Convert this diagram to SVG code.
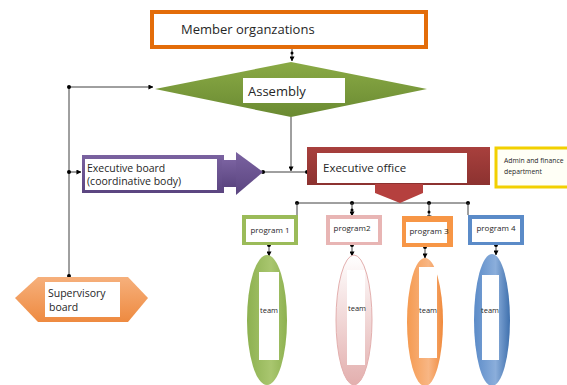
<svg xmlns="http://www.w3.org/2000/svg" width="567" height="385" viewBox="0 0 567 385">
<defs>
<style>
text{font-family:"Open Sans","Liberation Sans",Arial,sans-serif;fill:#262626}
.ln{stroke:#404040;stroke-width:1;fill:none}
.dot{fill:#000}
.inner{fill:#fff}
</style>
<marker id="ah" viewBox="0 0 6 6" refX="5.5" refY="3" markerWidth="5" markerHeight="5" orient="auto"><path d="M0,0 L6,3 L0,6 z" fill="#000"/></marker>
<linearGradient id="gGreen" x1="0" y1="0" x2="0" y2="1"><stop offset="0" stop-color="#8AAA45"/><stop offset="1" stop-color="#6A8A32"/></linearGradient>
<linearGradient id="gRed" x1="0" y1="0" x2="0" y2="1"><stop offset="0" stop-color="#A8403D"/><stop offset="1" stop-color="#8C3230"/></linearGradient>
<linearGradient id="gPurple" x1="0" y1="0" x2="0" y2="1"><stop offset="0" stop-color="#7A62A0"/><stop offset="1" stop-color="#5B4580"/></linearGradient>
<linearGradient id="gOr" x1="0" y1="0" x2="0" y2="1"><stop offset="0" stop-color="#F6B07C"/><stop offset="1" stop-color="#EE8A40"/></linearGradient>
<linearGradient id="eGreen" x1="0" y1="0" x2="1" y2="0"><stop offset="0" stop-color="#8DB150"/><stop offset="0.6" stop-color="#A9C66F"/><stop offset="1" stop-color="#8DB150"/></linearGradient>
<linearGradient id="ePink" x1="0" y1="0" x2="0" y2="1"><stop offset="0" stop-color="#FFFFFF"/><stop offset="1" stop-color="#E3AFAE"/></linearGradient>
<linearGradient id="eOr" x1="0" y1="0" x2="1" y2="0"><stop offset="0" stop-color="#F59A50"/><stop offset="0.6" stop-color="#F8B684"/><stop offset="1" stop-color="#F08A3C"/></linearGradient>
<linearGradient id="eBlue" x1="0" y1="0" x2="1" y2="0"><stop offset="0" stop-color="#5B8BC8"/><stop offset="0.6" stop-color="#8BAEDB"/><stop offset="1" stop-color="#3F70AD"/></linearGradient>
</defs>

<g id="connectors">
<line class="ln" x1="292" y1="47" x2="292" y2="61" marker-end="url(#ah)"/>
<circle class="dot" cx="292" cy="53" r="1.5"/>
<line class="ln" x1="69" y1="87" x2="153" y2="87" marker-end="url(#ah)"/>
<line class="ln" x1="69" y1="87" x2="69" y2="276"/>
<circle class="dot" cx="69" cy="87" r="2"/>
<circle class="dot" cx="69" cy="276" r="2"/>
<line class="ln" x1="69" y1="172" x2="81" y2="172" marker-end="url(#ah)"/>
<circle class="dot" cx="69" cy="172" r="2"/>
<line class="ln" x1="291" y1="117" x2="291" y2="171" marker-end="url(#ah)"/>
<line class="ln" x1="263" y1="172" x2="307" y2="172"/>
<circle class="dot" cx="263" cy="172" r="2"/>
<circle class="dot" cx="307" cy="172" r="2"/>
<line class="ln" x1="297" y1="203" x2="468" y2="203"/>
<circle class="dot" cx="297" cy="203" r="2"/>
<circle class="dot" cx="352" cy="203" r="2"/>
<circle class="dot" cx="429" cy="203" r="2"/>
<circle class="dot" cx="468" cy="203" r="2"/>
<line class="ln" x1="297" y1="203" x2="297" y2="215"/>
<line class="ln" x1="352" y1="203" x2="352" y2="216" marker-end="url(#ah)"/>
<circle class="dot" cx="352" cy="210" r="1.5"/>
<line class="ln" x1="429" y1="203" x2="429" y2="220" marker-end="url(#ah)"/>
<circle class="dot" cx="429" cy="212" r="1.5"/>
<line class="ln" x1="468" y1="203" x2="468" y2="215"/>
<line class="ln" x1="269" y1="245" x2="269" y2="256" marker-end="url(#ah)"/>
<circle class="dot" cx="269" cy="245" r="2"/>
<line class="ln" x1="352" y1="245" x2="352" y2="256" marker-end="url(#ah)"/>
<circle class="dot" cx="352" cy="245" r="2"/>
<line class="ln" x1="425" y1="247" x2="425" y2="258" marker-end="url(#ah)"/>
<circle class="dot" cx="425" cy="247" r="2"/>
<line class="ln" x1="496" y1="245" x2="496" y2="255" marker-end="url(#ah)"/>
<circle class="dot" cx="496" cy="245" r="2"/>
</g>

<g id="member">
<rect x="152" y="12" width="274" height="35" fill="#fff" stroke="#E36C09" stroke-width="4"/>
<text x="181" y="34" font-size="13">Member organzations</text>
</g>

<g id="assembly">
<polygon points="155,89 291,62 427,89 291,117" fill="url(#gGreen)"/>
<rect class="inner" x="243" y="78" width="102" height="25"/>
<text x="248" y="96" font-size="13">Assembly</text>
</g>

<g id="executive-board">
<rect x="82" y="155" width="142" height="38" fill="url(#gPurple)"/>
<rect x="222" y="160" width="16" height="27" fill="url(#gPurple)"/>
<polygon points="236,152 263,172 236,195" fill="url(#gPurple)"/>
<rect class="inner" x="85" y="159" width="132" height="31"/>
<text x="87" y="172" font-size="10.5">Executive board</text>
<text x="87" y="185" font-size="10.5">(coordinative body)</text>
</g>

<g id="executive-office">
<rect x="307" y="147" width="183" height="38" fill="url(#gRed)"/>
<polygon points="375,184 423,184 423,193 400,203 375,193" fill="#B5403E"/>
<rect class="inner" x="317" y="153" width="150" height="30"/>
<text x="323" y="172" font-size="11.5">Executive office</text>
</g>

<g id="admin">
<rect x="496" y="148" width="80" height="39" fill="#FFFFF6" stroke="#F2D000" stroke-width="3"/>
<text x="504" y="163" font-size="6.8">Admin and finance</text>
<text x="504" y="174" font-size="6.8">department</text>
</g>

<g id="program1">
<rect x="242" y="215" width="56" height="30" fill="#9BBB59"/>
<rect class="inner" x="246" y="219" width="48" height="23"/>
<text x="270" y="233" font-size="8" text-anchor="middle">program 1</text>
</g>
<g id="program2">
<rect x="326" y="215" width="56" height="30" fill="#E8B5B4"/>
<rect class="inner" x="330" y="219" width="48" height="23"/>
<text x="352" y="231" font-size="8" text-anchor="middle">program2</text>
</g>
<g id="program3">
<rect x="402" y="216" width="51" height="31" fill="#F79646"/>
<rect class="inner" x="406" y="222" width="41" height="21"/>
<text x="429" y="234" font-size="8" text-anchor="middle">program 3</text>
</g>
<g id="program4">
<rect x="468" y="215" width="56" height="30" fill="#5B8BC8"/>
<rect class="inner" x="472" y="219" width="48" height="23"/>
<text x="496" y="231" font-size="8" text-anchor="middle">program 4</text>
</g>

<g id="team1">
<ellipse cx="267" cy="320" rx="20" ry="65" fill="url(#eGreen)"/>
<rect class="inner" x="259" y="272" width="20" height="88"/>
<text x="260" y="313" font-size="7.5">team</text>
</g>
<g id="team2">
<ellipse cx="354" cy="320" rx="18" ry="65" fill="url(#ePink)" stroke="#E3AFAE" stroke-width="1"/>
<rect class="inner" x="347" y="270" width="18" height="95"/>
<text x="348" y="311" font-size="7.5">team</text>
</g>
<g id="team3">
<ellipse cx="425" cy="322" rx="18" ry="64" fill="url(#eOr)"/>
<rect class="inner" x="419" y="267" width="18" height="91"/>
<text x="419" y="313" font-size="7.5">team</text>
</g>
<g id="team4">
<ellipse cx="492" cy="320" rx="18" ry="66" fill="url(#eBlue)"/>
<rect class="inner" x="482" y="275" width="17" height="85"/>
<text x="481" y="313" font-size="7.5">team</text>
</g>

<g id="supervisory">
<polygon points="15,298 38,277 128,277 148,298 128,322 38,322" fill="url(#gOr)"/>
<rect class="inner" x="45" y="282" width="75" height="35"/>
<text x="48" y="297" font-size="10.5">Supervisory</text>
<text x="49" y="311" font-size="10.5">board</text>
</g>
</svg>
